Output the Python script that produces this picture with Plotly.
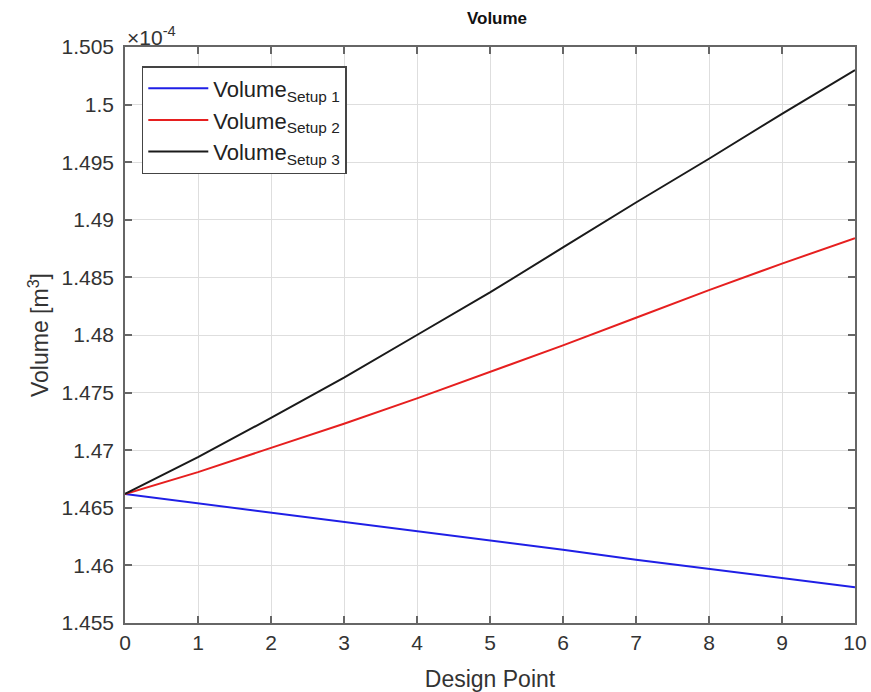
import plotly.graph_objects as go

design_points = [0, 1, 2, 3, 4, 5, 6, 7, 8, 9, 10]
setup1 = [1.4662, 1.4654, 1.4646, 1.4638, 1.4630, 1.46215, 1.46135, 1.4605, 1.4597, 1.4589, 1.4581]
setup2 = [1.4662, 1.4681, 1.4702, 1.4723, 1.4745, 1.4768, 1.4791, 1.4815, 1.4839, 1.4862, 1.4884]
setup3 = [1.4662, 1.4694, 1.4728, 1.4763, 1.4800, 1.4837, 1.4876, 1.4915, 1.4953, 1.4992, 1.5030]
series_names = ["Volume<sub>Setup 1</sub>", "Volume<sub>Setup 2</sub>", "Volume<sub>Setup 3</sub>"]
series_colors = ["#1f1fe6", "#e61f1f", "#1a1a1a"]
y_tickvals = [1.455, 1.46, 1.465, 1.47, 1.475, 1.48, 1.485, 1.49, 1.495, 1.5, 1.505]
y_ticktext = ["1.455", "1.46", "1.465", "1.47", "1.475", "1.48", "1.485", "1.49", "1.495", "1.5", "1.505"]
x_tickvals = [0, 1, 2, 3, 4, 5, 6, 7, 8, 9, 10]

FONT = "Liberation Sans, Arial, sans-serif"
TXT = "#333333"
AX = "#666666"

fig = go.Figure()
for name, vals, col in zip(series_names, [setup1, setup2, setup3], series_colors):
    fig.add_trace(go.Scatter(x=design_points, y=vals, mode="lines", name=name,
                             line=dict(color=col, width=2)))

fig.update_layout(
    width=871, height=692,
    margin=dict(l=125, r=16, t=47, b=69, autoexpand=False),
    paper_bgcolor="white", plot_bgcolor="white",
    font=dict(family=FONT, color=TXT, size=21),
    title=dict(text="<b>Volume</b>", x=0.5096, xref="paper", xanchor="center",
               y=1 - 18 / 692, yref="container", yanchor="middle",
               font=dict(size=17, color="#111111")),
    showlegend=True,
    legend=dict(x=0.023, y=0.967, xanchor="left", yanchor="top",
                bgcolor="white", bordercolor="#444444", borderwidth=1.5,
                font=dict(size=22, color="#222222"),
                itemwidth=60),
    xaxis=dict(range=[0, 10], tickvals=x_tickvals, showgrid=True, gridcolor="#dedede",
               showline=True, linecolor=AX, linewidth=1.5, mirror="ticks",
               ticks="inside", ticklen=7, tickcolor=AX, tickwidth=1.5,
               zeroline=False, tickfont=dict(size=21), automargin=False,
               title=dict(text="Design Point", font=dict(size=23), standoff=19)),
    yaxis=dict(range=[1.455, 1.505], tickvals=y_tickvals, ticktext=y_ticktext,
               showgrid=True, gridcolor="#dedede",
               showline=True, linecolor=AX, linewidth=1.5, mirror="ticks",
               ticks="inside", ticklen=7, tickcolor=AX, tickwidth=1.5,
               zeroline=False, tickfont=dict(size=21), automargin=False,
               ticklabelstandoff=5,
               title=dict(text="Volume [m<sup>3</sup>]", font=dict(size=23), standoff=6)),
)

fig.add_annotation(text="×10<sup>-4</sup>", xref="paper", yref="paper", x=0.0, y=1.0,
                   xanchor="left", yanchor="bottom", showarrow=False,
                   font=dict(size=21, color=TXT), yshift=-4)

fig.write_html("out.html",
               config={"displayModeBar": False},
               post_script="document.body.style.margin='0';document.body.style.overflow='hidden';"
                           "document.documentElement.style.overflow='hidden';")
